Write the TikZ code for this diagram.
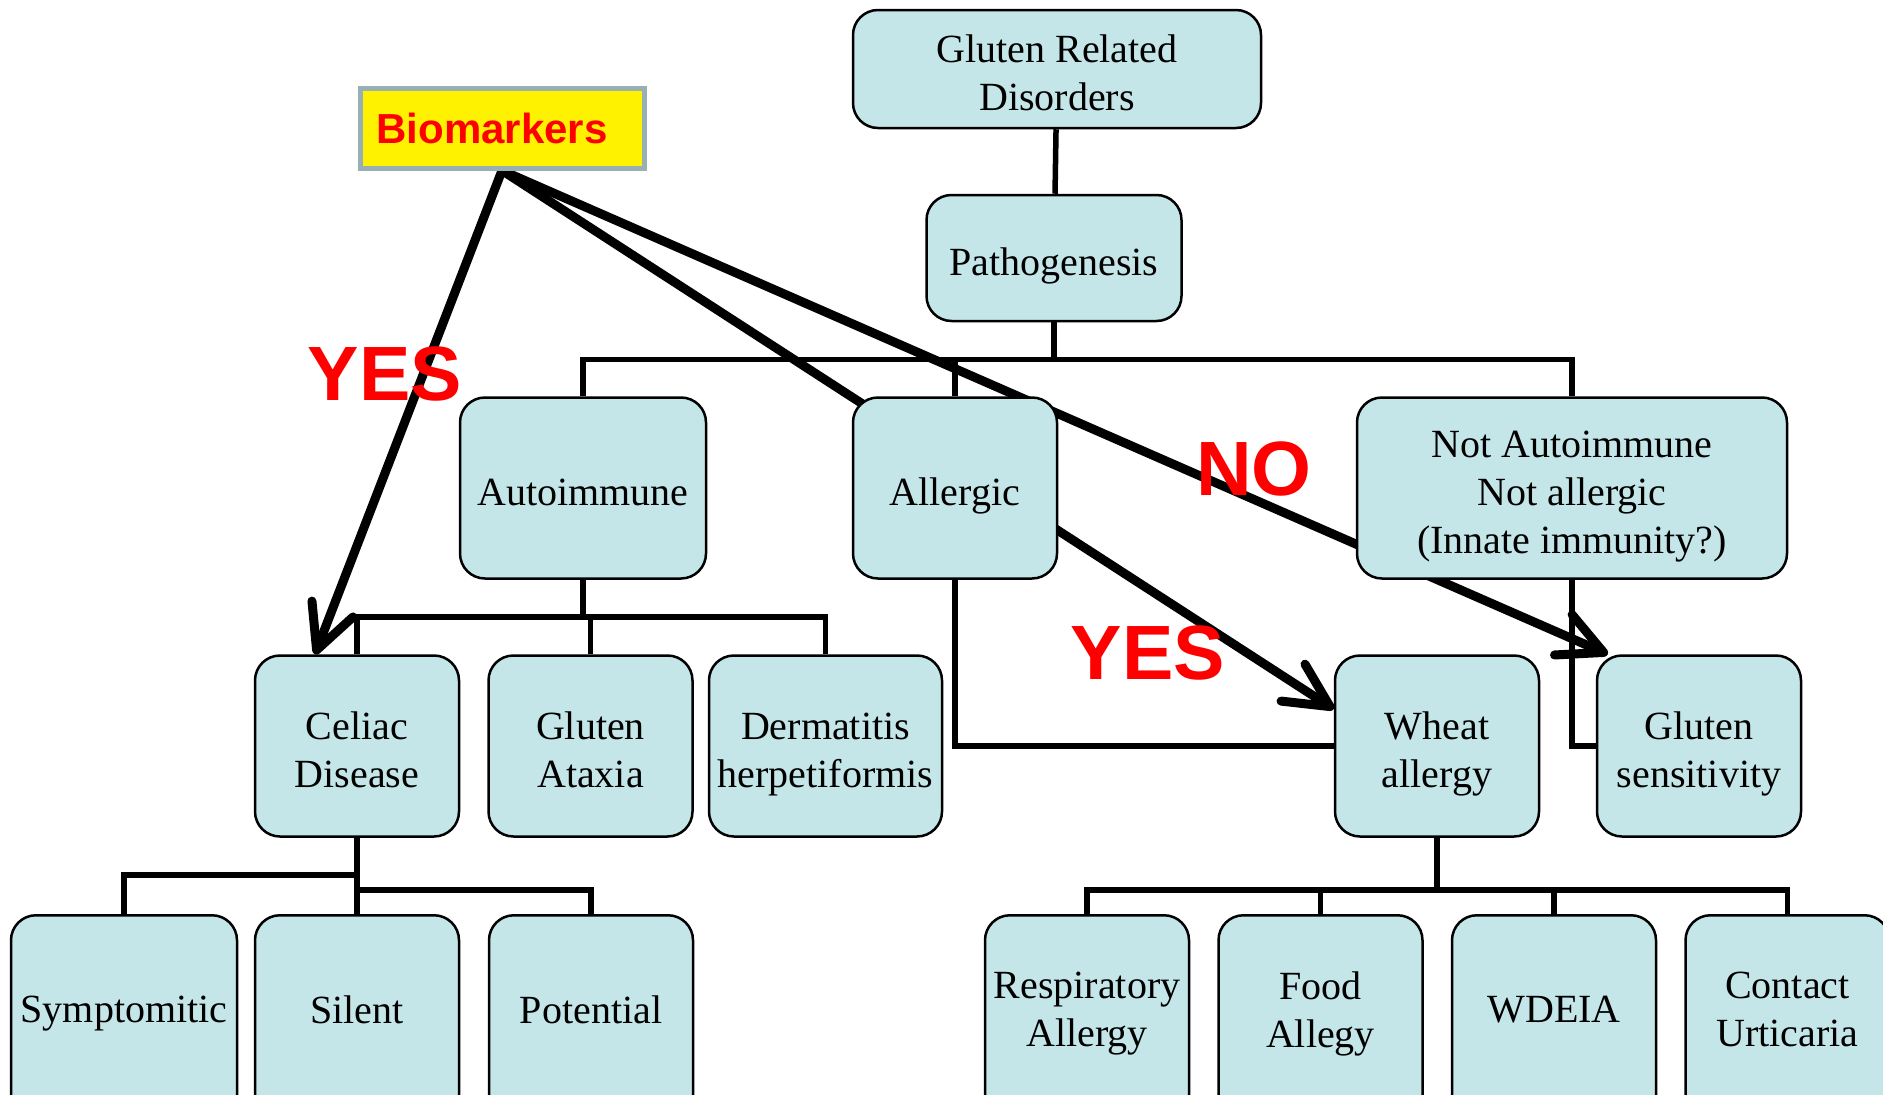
\documentclass[tikz,border=0pt]{standalone}
\usepackage{fontspec}
\setmainfont{Liberation Serif}
\newfontfamily\redfont{Liberation Sans}
\usetikzlibrary{positioning, arrows.meta, backgrounds}

\definecolor{boxblue}{RGB}{197,230,232}
\definecolor{biogray}{RGB}{152,176,180}

\begin{document}
\begin{tikzpicture}[x=1pt, y=-1pt, node distance=27pt, line width=5.5pt,
    box/.style={draw, line width=2.5pt, fill=boxblue, rounded corners=25pt, align=center,
        inner sep=2pt, minimum height=181pt, text depth=0pt, font=\fontsize{40}{48}\selectfont},
    oneline/.style={box, text height=35pt},
    twoline/.style={box, text height=83pt},
    threeline/.style={box, text height=131pt},
    leaf/.style={box, anchor=north, minimum width=204pt, minimum height=241pt, text depth=53pt},
    redtext/.style={inner sep=0pt, text=red, font=\redfont\bfseries\fontsize{77}{80}\selectfont},
    bigarrow/.style={line width=9pt, line cap=round, -{Straight Barb[length=44pt, width=44pt, round]}}]

        \useasboundingbox (0,0) rectangle (1883,1095);

        %TOP
        \node[twoline, minimum width=408pt, minimum height=118pt] (GRD) at (1057,69) {Gluten Related\\Disorders};
        \node[oneline, minimum width=255pt, minimum height=126pt] (PATH) at (1054,258) {Pathogenesis};
        \node[draw=biogray, line width=5pt, fill=yellow, minimum width=284pt, minimum height=80pt,
            text=red, font=\redfont\bfseries\fontsize{42}{48}\selectfont] (BIO) at (502,128) {Biomarkers\kern20pt};

        %SECOND ROW
        \node[oneline, minimum width=246pt] (AUTO) at (583,488) {Autoimmune};
        \node[oneline, minimum width=204pt] (ALLERG) at (955,488) {Allergic};
        \node[threeline, minimum width=430pt] (NOTAUTO) at (1572,488) {Not Autoimmune\\Not allergic\\(Innate immunity?)};

        %THIRD ROW
        \node[twoline, minimum width=204pt] (CD) at (357,746) {Celiac\\Disease};
        \node[twoline, minimum width=204pt, right=of CD] (GA) {Gluten\\Ataxia};
        \node[twoline, minimum width=233pt, right=14pt of GA] (DH) {Dermatitis\\herpetiformis};
        \node[twoline, minimum width=204pt] (WA) at (1437,746) {Wheat\\allergy};
        \node[twoline, minimum width=204pt] (GS) at (1699,746) {Gluten\\sensitivity};

        %LEAVES (CUT OFF AT THE BOTTOM)
        \node[leaf, minimum width=226pt] (SYM) at (124,914) {Symptomitic};
        \node[leaf] (SIL) at (357,914) {Silent};
        \node[leaf] (POT) at (591,914) {Potential};
        \node[leaf] (RESP) at (1087,914) {Respiratory\\Allergy};
        \node[leaf, right=of RESP] (FOOD) {Food\\Allegy};
        \node[leaf, right=of FOOD] (WDEIA) {WDEIA};
        \node[leaf, right=of WDEIA] (CU) {Contact\\Urticaria};

        %TREE LINES
        \draw (GRD) -- (PATH);
        \draw (PATH.south) -- ++(0,37) coordinate (b1);
        \draw (AUTO.north) |- (b1) -| (NOTAUTO.north);
        \draw (ALLERG.north) -- (ALLERG.north |- b1);
        \draw (AUTO.south) -- ++(0,37) coordinate (b2);
        \draw (CD.north) |- (b2) -| (DH.north);
        \draw (GA.north) -- (GA.north |- b2);
        \draw (ALLERG.south) |- (WA.west);
        \draw (NOTAUTO.south) |- (GS.west);
        \draw (CD.south) -- (SIL.north);
        \draw (CD.south) ++(0,37) -| (SYM.north);
        \draw (CD.south) ++(0,52) -| (POT.north);
        \draw (WA.south) -- ++(0,52) coordinate (b3);
        \draw (RESP.north) |- (b3) -| (CU.north);
        \draw (FOOD.north) -- (FOOD.north |- b3);
        \draw (WDEIA.north) -- (WDEIA.north |- b3);

        % BIOMARKER ARROWS (BEHIND THE BOXES)
        \begin{scope}[on background layer]
            \draw[bigarrow] (BIO.south) -- ([xshift=-42pt]CD.north);
            \draw[bigarrow] (BIO.south) -- ([yshift=37pt]WA.west);
            \draw[bigarrow] (BIO.south) -- ([xshift=12pt]GS.north west);
        \end{scope}

        \node[redtext] (YES1) at (385,374) {YES};
        \node[redtext] (YES2) at (1148,653) {YES};
        \node[redtext] (NO) at (1254,469) {NO};

    \end{tikzpicture}
\end{document}
